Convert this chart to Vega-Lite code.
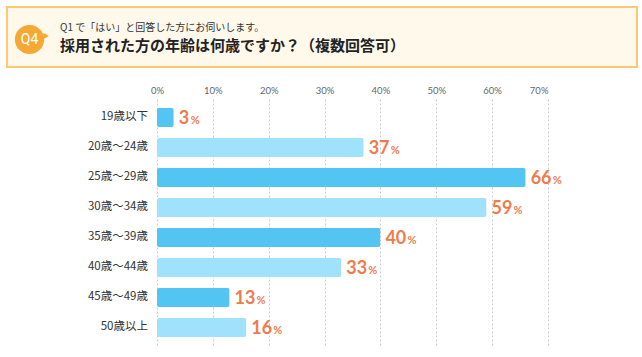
{
  "$schema": "https://vega.github.io/schema/vega-lite/v6.json",
  "background": "white",
  "padding": {"left": 6, "top": 6, "right": 5, "bottom": 5},
  "spacing": 17,
  "config": {"font": "Noto Sans CJK JP"},
  "vconcat": [
    {
      "width": 630,
      "height": 60,
      "view": {"fill": "#FFF9EC", "stroke": "#FFC774", "strokeWidth": 2},
      "title": {
        "text": "Q1 で「はい」と回答した方にお伺いします。",
        "subtitle": "採用された方の年齢は何歳ですか？（複数回答可）",
        "anchor": "start",
        "frame": "group",
        "orient": "top",
        "offset": -47,
        "dx": 53,
        "font": "Noto Sans CJK JP",
        "fontSize": 10,
        "fontWeight": "normal",
        "color": "#333333",
        "subtitleFont": "Noto Sans CJK JP",
        "subtitleFontSize": 15,
        "subtitleFontWeight": "bold",
        "subtitleColor": "#222222",
        "subtitlePadding": 6
      },
      "data": {"values": [{"badge": "Q4"}]},
      "layer": [
        {
          "mark": {"type": "point", "shape": "triangle-right", "filled": true, "color": "#F6A835", "opacity": 1, "size": 40},
          "encoding": {"x": {"value": 39}, "y": {"value": 29}}
        },
        {
          "mark": {"type": "point", "shape": "circle", "filled": true, "color": "#F6A835", "opacity": 1, "size": 855},
          "encoding": {"x": {"value": 22.5}, "y": {"value": 32.5}}
        },
        {
          "mark": {"type": "text", "color": "white", "fontSize": 14, "font": "Roboto", "fontWeight": "normal", "align": "center", "baseline": "middle"},
          "encoding": {"x": {"value": 22.5}, "y": {"value": 32.5}, "text": {"field": "badge"}}
        }
      ]
    },
    {
      "width": 541,
      "height": {"step": 30},
      "view": {"stroke": null},
      "data": {
        "values": [
          {"age": "19歳以下", "pct": 3},
          {"age": "20歳〜24歳", "pct": 37},
          {"age": "25歳〜29歳", "pct": 66},
          {"age": "30歳〜34歳", "pct": 59},
          {"age": "35歳〜39歳", "pct": 40},
          {"age": "40歳〜44歳", "pct": 33},
          {"age": "45歳〜49歳", "pct": 13},
          {"age": "50歳以上", "pct": 16}
        ]
      },
      "encoding": {
        "y": {
          "field": "age",
          "type": "nominal",
          "sort": null,
          "scale": {"paddingInner": 0.37, "paddingOuter": 0.3},
          "axis": null
        }
      },
      "layer": [
        {
          "mark": {"type": "bar", "cornerRadius": 2},
          "encoding": {
            "x": {
              "field": "pct",
              "type": "quantitative",
              "scale": {"domain": [-26.85, 70], "nice": false, "zero": true},
              "axis": {"orient": "top", "title": null, "values": [0, 10, 20, 30, 40, 50, 60, 70], "labelExpr": "datum.value + '%'", "ticks": false, "domain": false, "labelFontSize": 9.5, "labelColor": "#666666", "labelFont": "Lato", "labelPadding": 4, "grid": true, "gridColor": "#cccccc", "gridDash": [2, 2], "gridWidth": 1}
            },
            "color": {
              "field": "age",
              "type": "nominal",
              "sort": null,
              "legend": null,
              "scale": {"range": ["#52C5F2", "#A0E2FC", "#52C5F2", "#A0E2FC", "#52C5F2", "#A0E2FC", "#52C5F2", "#A0E2FC"]}
            }
          }
        },
        {
          "mark": {"type": "text", "align": "right", "baseline": "middle", "dx": -9, "font": "Noto Sans CJK JP", "fontSize": 11.5, "color": "#333333"},
          "encoding": {"x": {"datum": 0, "type": "quantitative"}, "text": {"field": "age"}}
        },
        {
          "mark": {"type": "text", "align": "left", "baseline": "alphabetic", "dx": 5, "dy": 7, "font": "Lato", "fontWeight": "bold", "fontSize": 18, "color": "#F07B4C"},
          "encoding": {"x": {"field": "pct", "type": "quantitative"}, "text": {"field": "pct"}}
        },
        {
          "transform": [{"filter": "datum.pct < 10"}],
          "mark": {"type": "text", "align": "left", "baseline": "alphabetic", "dx": 17, "dy": 7, "font": "Lato", "fontWeight": "bold", "fontSize": 11, "color": "#F07B4C"},
          "encoding": {"x": {"field": "pct", "type": "quantitative"}, "text": {"value": "%"}}
        },
        {
          "transform": [{"filter": "datum.pct >= 10"}],
          "mark": {"type": "text", "align": "left", "baseline": "alphabetic", "dx": 27, "dy": 7, "font": "Lato", "fontWeight": "bold", "fontSize": 11, "color": "#F07B4C"},
          "encoding": {"x": {"field": "pct", "type": "quantitative"}, "text": {"value": "%"}}
        }
      ]
    }
  ]
}
